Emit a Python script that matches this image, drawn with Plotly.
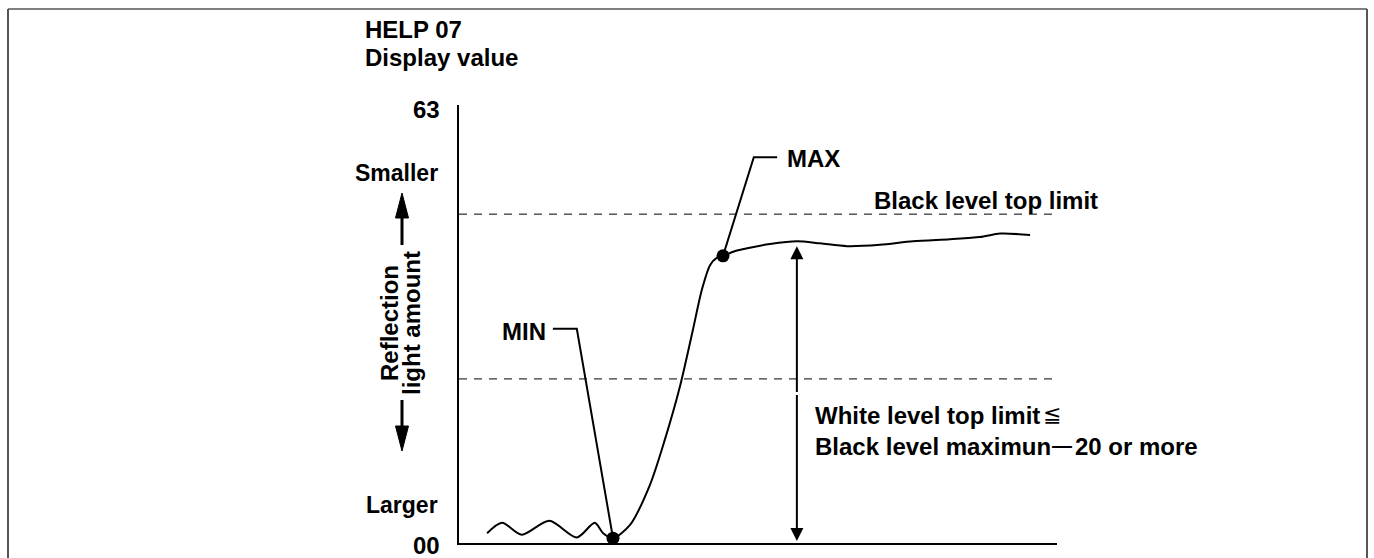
import plotly.graph_objects as go

# Signal trace of HELP 07 (display value vs. scan position)
scan_pos = [4.7, 7.2, 10.5, 15.1, 19.7, 22.7, 24.1, 25.75, 28.6, 31.9, 34.4, 37.0,
            39.1, 40.6, 42.0, 43.1, 44.15, 46.2, 48.2, 52.0, 56.5, 60.4, 64.9,
            70.4, 75.9, 82.1, 87.1, 90.5, 95.5]
display_value = [1.4, 2.9, 1.2, 3.2, 0.8, 2.9, 1.4, 0.7, 2.6, 8.3, 14.8, 22.7,
                 30.6, 36.4, 40.0, 41.0, 41.3, 42.0, 42.4, 43.0, 43.4, 43.1, 42.7,
                 42.9, 43.4, 43.7, 44.0, 44.5, 44.3]

# Marked extremes
min_point = (25.75, 0.7)
max_point = (44.15, 41.3)

# Threshold levels
black_top_limit = 47.3
white_top_limit = 23.6

# Axis scale
y_ticks = [0, 63]
y_tick_labels = ["00", "63"]
x_span = [0, 100]

W, H = 1374, 558
FONT = "Liberation Sans, Arial, sans-serif"
FS = 24


def px(x, y):
    """Pixel position -> paper fraction."""
    return x / W, 1 - y / H


fig = go.Figure()

fig.add_trace(go.Scatter(
    x=scan_pos, y=display_value, mode="lines",
    line=dict(color="black", width=2, shape="spline", smoothing=0.8),
    cliponaxis=False, hoverinfo="skip", showlegend=False,
))
fig.add_trace(go.Scatter(
    x=[min_point[0], max_point[0]], y=[min_point[1], max_point[1]], mode="markers",
    marker=dict(color="black", size=13),
    cliponaxis=False, hoverinfo="skip", showlegend=False,
))

shapes = []
# threshold dashed lines
for lvl in (black_top_limit, white_top_limit):
    shapes.append(dict(type="line", xref="x", yref="y", x0=x_span[0], x1=x_span[1],
                       y0=lvl, y1=lvl, line=dict(color="black", width=1, dash="8px,7px")))

# leader lines for MIN / MAX labels
shapes.append(dict(type="path", xref="x", yref="y",
                   path=f"M{min_point[0]},{min_point[1]} L19.7,30.8 L15.7,30.8",
                   line=dict(color="black", width=2)))
shapes.append(dict(type="path", xref="x", yref="y",
                   path=f"M{max_point[0]},{max_point[1]} L49.3,55.5 L53.2,55.5",
                   line=dict(color="black", width=2)))

# outer frame
fx0, fy0 = px(8, 9)
fx1, _ = px(1367, 9)
shapes.append(dict(type="line", xref="paper", yref="paper", x0=fx0, x1=fx1, y0=fy0, y1=fy0,
                   line=dict(color="black", width=1)))
shapes.append(dict(type="line", xref="paper", yref="paper", x0=fx0, x1=fx0, y0=fy0, y1=0,
                   line=dict(color="#555555", width=2)))
shapes.append(dict(type="line", xref="paper", yref="paper", x0=fx1, x1=fx1, y0=fy0, y1=0,
                   line=dict(color="#555555", width=2)))


def arrow_path(pts):
    s = "M" + " L".join(f"{px(a, b)[0]},{px(a, b)[1]}" for a, b in pts) + " Z"
    return s


# "Smaller" / "Larger" direction arrows beside the vertical label
ax_ = 402
for (t0, t1), head in (((245, 216), [(402, 193), (395.5, 218), (408.5, 218)]),
                       ((400, 428), [(402, 451), (395.5, 426), (408.5, 426)])):
    a0 = px(ax_, t0)
    a1 = px(ax_, t1)
    shapes.append(dict(type="line", xref="paper", yref="paper", x0=a0[0], x1=a1[0],
                       y0=a0[1], y1=a1[1], line=dict(color="black", width=3)))
    shapes.append(dict(type="path", xref="paper", yref="paper", path=arrow_path(head),
                       fillcolor="black", line=dict(color="black", width=1)))

annotations = []


def label(text, x, y, xanchor="left", size=FS, **kw):
    fx, fy = px(x, y)
    annotations.append(dict(text=text, x=fx, y=fy, xref="paper", yref="paper",
                            xanchor=xanchor, yanchor="middle", showarrow=False,
                            font=dict(family=FONT, size=size, color="black"), **kw))


label("<b>HELP 07</b>", 363, 30)
label("<b>Display value</b>", 363, 58)
label(f"<b>{y_tick_labels[1]}</b>", 442, 110, xanchor="right")
label(f"<b>{y_tick_labels[0]}</b>", 442, 545, xanchor="right")
label("<b>Smaller</b>", 440, 173, xanchor="right", size=23)
label("<b>Larger</b>", 440, 505, xanchor="right", size=23)
label("<b>Reflection</b>", 389, 323, xanchor="center", textangle=-90)
label("<b>light amount</b>", 411, 323, xanchor="center", textangle=-90)
label("<b>MIN</b>", 548, 331, xanchor="right")
label("<b>MAX</b>", 785, 159)
label("<b>Black level top limit</b>", 872, 200)
label("<b>White level top limit</b>", 813, 415)
label("<b>Black level maximun</b>", 813, 446)

# relation symbol and joining dash, set as separate glyphs so they sit at their own spacing
label("≦", 1041, 414, size=22)
label("<b>―</b>", 1050, 445, size=20)
label("<b>20 or more</b>", 1073, 446)

# double-headed span arrow from the black plateau down to zero
span_x = 56.5
for head_y in (42.7, 0.3):
    annotations.append(dict(x=span_x, y=head_y, ax=span_x, ay=21.5, xref="x", yref="y",
                            axref="x", ayref="y", text="", showarrow=True,
                            arrowhead=2, arrowsize=1.3, arrowwidth=2, arrowcolor="black",
                            standoff=0))

xd = [459 / W, 1057 / W]
yd = [1 - 543 / H, 1 - 105 / H]

fig.update_layout(
    width=W, height=H,
    margin=dict(l=0, r=0, t=0, b=0),
    paper_bgcolor="white", plot_bgcolor="white",
    xaxis=dict(domain=xd, range=x_span, showline=True, linecolor="black", linewidth=2,
               showgrid=False, zeroline=False, showticklabels=False, ticks=""),
    yaxis=dict(domain=yd, range=[y_ticks[0], y_ticks[1]], showline=True, linecolor="black",
               linewidth=2, showgrid=False, zeroline=False, showticklabels=False, ticks=""),
    shapes=shapes,
    annotations=annotations,
)

fig.write_html("out.html")
